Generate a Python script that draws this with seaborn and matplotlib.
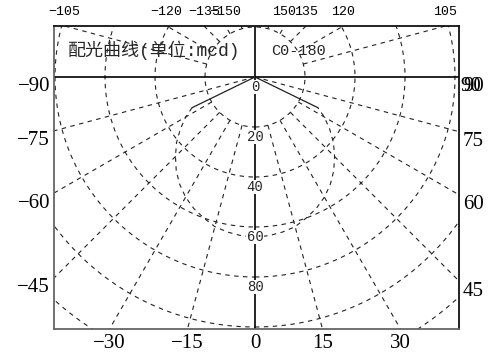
import numpy as np
import pandas as pd
import seaborn as sns
import matplotlib
matplotlib.use("Agg")
from matplotlib import pyplot as plt


# luminous intensity, C0-180 plane (mcd)
angles = [-64, -60, -55, -50, -45, -40, -35, -30, -25, -20, -15, -10, -5, 0,
          5, 10, 15, 20, 25, 30, 35, 40, 45, 50, 55, 60, 64]
intensity = [28, 32, 36.5, 41, 45, 49, 52.5, 55.5, 58, 60, 62, 63, 63.7, 64,
             63.7, 63, 62, 60, 58, 55.5, 52.5, 49, 45, 41, 36.5, 32, 28]

rings = [20, 40, 60, 80, 100, 120]
ring_labels = [0, 20, 40, 60, 80]
spokes = list(range(-165, 181, 15))
full_spokes = [-75, 75]          # these run right into the centre
bottom_labels = [-30, -15, 0, 15, 30]
left_labels = [-90, -75, -60, -45]
right_labels = [90, 75, 60, 45]
top_labels = [-105, -120, -135, -150, 150, 135, 120, 105]

title = "配光曲线(单位:mcd)"
plane = "C0-180"


def to_xy(theta_deg, r):
    t = np.radians(theta_deg)
    return np.asarray(r) * np.sin(t), -np.asarray(r) * np.cos(t)


def minus(v):
    return str(v).replace("-", "\u2212")


sns.set_style("white")
fig = plt.figure(figsize=(4.88, 3.53), dpi=100)
ax = fig.add_axes([54 / 488, 24 / 353, 405 / 488, 303 / 353])

xmin, xmax = -80.4, 81.6
ymin, ymax = -100.8, 20.4
ax.set_xlim(xmin, xmax)
ax.set_ylim(ymin, ymax)
ax.set_aspect("equal")
ax.set_xticks([])
ax.set_yticks([])

grid_kw = dict(color="#222222", lw=0.8, linestyle=(0, (4, 4)))

# rings and spokes
circ = np.linspace(0, 360, 721)
for r in rings:
    gx, gy = to_xy(circ, r)
    ax.plot(gx, gy, **grid_kw)
for a in spokes:
    if a % 90 == 0:
        continue
    start = 0 if a in full_spokes else rings[0]
    sx, sy = to_xy(a, [start, 200])
    ax.plot(sx, sy, **grid_kw)

ax.axhline(0, color="black", lw=1.2)
ax.axvline(0, color="black", lw=1.2)

# intensity curve
cx, cy = to_xy(np.array(angles), np.array(intensity))
df = pd.DataFrame({"x": cx, "y": cy})
sns.lineplot(data=df, x="x", y="y", sort=False, estimator=None, ax=ax,
             color="#222222", lw=0.8, linestyle=(0, (4, 4)))
ax.plot([0, cx[0]], [0, cy[0]], color="#222222", lw=0.9)
ax.plot([0, cx[-1]], [0, cy[-1]], color="#222222", lw=0.9)

for side, s in ax.spines.items():
    s.set_visible(True)
    s.set_linewidth(1.3)
    s.set_color("#666666" if side in ("left", "bottom") else "#111111")

serif = dict(family="Liberation Serif", fontsize=15, color="black")
mono_small = dict(family="Liberation Mono", fontsize=9.5, color="black")

for a in bottom_labels:
    x = np.tan(np.radians(a)) * (-ymin)
    ax.annotate(minus(a), (x, ymin), xytext=(0, -14), textcoords="offset pixels",
                ha="center", va="center", annotation_clip=False, **serif)
for a in left_labels:
    y = xmin / np.tan(np.radians(-a))
    ax.annotate(minus(a), (xmin, y), xytext=(-4, -10), textcoords="offset pixels",
                ha="right", va="center", annotation_clip=False, **serif)
for a in right_labels:
    y = -xmax / np.tan(np.radians(a))
    ax.annotate(minus(a), (xmax, y), xytext=(4, -10), textcoords="offset pixels",
                ha="left", va="center", annotation_clip=False, **serif)
    if a == 90:
        ax.annotate(minus(a), (xmax, y), xytext=(1, -10), textcoords="offset pixels",
                    ha="left", va="center", annotation_clip=False, **serif)
for a in top_labels:
    dx, dy = to_xy(a, 1.0)
    x = dx * ymax / dy
    ax.annotate(minus(a), (x, ymax), xytext=(0, 14), textcoords="offset pixels",
                ha="center", va="center", annotation_clip=False, **mono_small)

for r in ring_labels:
    ax.text(0, -(r + 4), str(r), ha="center", va="center",
            family="Liberation Mono", fontsize=10,
            bbox=dict(facecolor="white", edgecolor="none", pad=0.3))

ax.annotate(title, (xmin, ymax), xytext=(14, -24), textcoords="offset pixels",
            ha="left", va="center", fontsize=13,
            family=["Liberation Mono", "Noto Sans CJK SC"])
ax.annotate(plane, (0, ymax), xytext=(16, -25), textcoords="offset pixels",
            ha="left", va="center", fontsize=11, family="Liberation Mono")

fig.savefig("out.png", dpi=100)
